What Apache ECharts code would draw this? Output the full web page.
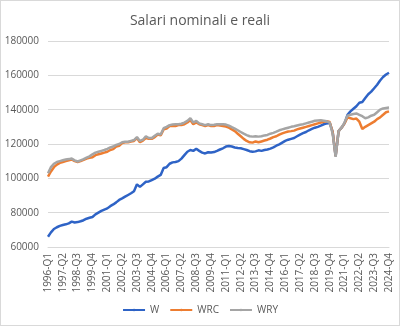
<!DOCTYPE html>
<html>
<head>
<meta charset="utf-8">
<script src="https://cdn.jsdelivr.net/npm/echarts@6/dist/echarts.min.js"></script>
<style>
  html, body { margin: 0; padding: 0; background: #fff; }
  #chart { width: 398px; height: 324px; border: 1px solid #d9d9d9; }
</style>
</head>
<body>
<div id="chart"></div>
<script>
// Quarterly periods 1996-Q1 .. 2024-Q4
const quarters = [];
for (let y = 1996; y <= 2024; y++) {
  for (let q = 1; q <= 4; q++) quarters.push(y + '-Q' + q);
}

// Nominal wages
const W = [
  66000, 68500, 70500, 71500, 72300, 72800, 73200, 73800, 74800, 74300,
  74500, 75000, 75600, 76500, 77000, 77500, 79000, 80000, 81000, 81800,
  82500, 83800, 84800, 86000, 87400, 88300, 89300, 90300, 91300, 92500,
  96500, 95000, 96500, 98000, 98200, 99000, 99800, 101000, 102000, 106000,
  106500, 108500, 109300, 109500, 110000, 111500, 113500, 115500, 116500, 116000,
  117200, 116000, 115000, 114500, 115200, 115000, 115300, 116000, 116800, 117500,
  118500, 118800, 118500, 118000, 117700, 117500, 117000, 116500, 115800, 115500,
  115700, 116300, 116000, 116500, 116800, 117300, 118000, 119000, 119800, 120800,
  121800, 122500, 123000, 123500, 124500, 125500, 126300, 127000, 128000, 128800,
  129500, 130000, 130700, 131500, 132000, 132300, 127000, 113000, 127500, 129500,
  132000, 137000, 139000, 140500, 142000, 144000, 144500, 146800, 149000, 150500,
  152500, 154500, 157000, 159000, 160500, 161500
];

// Real wages (consumer prices deflator)
const WRC = [
  101000, 104000, 106500, 108000, 109000, 109500, 110000, 110500, 111000, 110000,
  109500, 110000, 110700, 111500, 112000, 112300, 113500, 114000, 114500, 115000,
  115500, 116500, 117000, 118500, 119000, 120500, 121000, 121000, 121500, 121800,
  123500, 121000, 122000, 123500, 123000, 123000, 124000, 125500, 125000, 128500,
  129000, 130500, 130500, 130500, 131000, 131000, 131500, 132500, 134000, 131500,
  132500, 131500, 131000, 130500, 131000, 130500, 130500, 131000, 130700, 130500,
  130200, 129500, 128500, 127500, 126000, 124500, 123000, 121800, 121000, 120800,
  121500, 121000, 121500, 122000, 122500, 123200, 124000, 124500, 125500, 126200,
  126800, 127300, 127500, 127800, 128500, 129000, 129500, 130000, 130500, 131000,
  131500, 132000, 132500, 133000, 133300, 132800, 127000, 113000, 127500, 129500,
  132000, 135500, 135000, 134500, 134800, 133000, 128700, 130000, 131000, 132000,
  133000, 134500, 135500, 137000, 138500, 139000
];

// Real wages (GDP deflator)
const WRY = [
  103000, 106500, 108500, 109500, 110000, 110500, 111000, 111200, 111500, 110500,
  109800, 110500, 111200, 112000, 112800, 114000, 115000, 115500, 116000, 116500,
  117200, 118000, 118500, 119500, 120000, 121000, 121300, 121300, 121800, 122300,
  124000, 121800, 122500, 124500, 123500, 123500, 124800, 126000, 125500, 129200,
  130000, 131000, 131300, 131500, 131500, 131800, 132500, 133500, 135000, 132500,
  133500, 132000, 131500, 131000, 131500, 131000, 131200, 131500, 131500, 131500,
  131300, 130700, 129800, 129000, 128000, 127000, 126000, 125200, 124500, 124300,
  124500, 124300, 124500, 125000, 125300, 126000, 126500, 127200, 128000, 128500,
  129000, 129500, 130000, 130300, 130800, 131200, 131500, 132000, 132500, 133000,
  133500, 133700, 133800, 133500, 133200, 132500, 126000, 112500, 127500, 129500,
  132500, 136500, 137000, 137500, 137800, 137000, 136200, 135000, 135500, 136500,
  137000, 138500, 140000, 140700, 141000, 141200
];

const seriesNames = ['W', 'WRC', 'WRY'];
const seriesColors = ['#2E63C6', '#ED7D31', '#A5A5A5'];
const seriesData = [W, WRC, WRY];

const textColor = '#595959';
const font = '"Open Sans", "Liberation Sans", sans-serif';

const chart = echarts.init(document.getElementById('chart'));
chart.setOption({
  animation: false,
  title: {
    text: 'Salari nominali e reali',
    left: 'center',
    top: 8,
    textStyle: { fontFamily: font, fontSize: 14, fontWeight: 'normal', color: textColor }
  },
  grid: { left: 47, right: 10, top: 40, bottom: 78 },
  legend: {
    bottom: 5,
    left: 'center',
    itemWidth: 22,
    itemHeight: 3,
    itemGap: 10,
    textStyle: { fontFamily: font, fontSize: 10, color: textColor },
    data: seriesNames
  },
  xAxis: {
    type: 'category',
    data: quarters,
    boundaryGap: false,
    axisLine: { show: true, lineStyle: { color: '#d9d9d9' } },
    axisTick: { show: false },
    axisLabel: {
      interval: 4,
      rotate: 90,
      margin: 6,
      fontFamily: font,
      fontSize: 10,
      color: textColor
    }
  },
  yAxis: {
    type: 'value',
    min: 60000,
    max: 180000,
    interval: 20000,
    axisLine: { show: false },
    axisTick: { show: false },
    axisLabel: {
      fontFamily: font,
      fontSize: 10,
      color: textColor,
      margin: 9,
      formatter: v => String(v)
    },
    splitLine: { lineStyle: { color: '#d9d9d9' } }
  },
  series: seriesNames.map((name, k) => ({
    name: name,
    type: 'line',
    data: seriesData[k],
    symbol: 'none',
    lineStyle: { width: 2.5, color: seriesColors[k] },
    itemStyle: { color: seriesColors[k] },
    z: k + 1
  }))
});
</script>
</body>
</html>
